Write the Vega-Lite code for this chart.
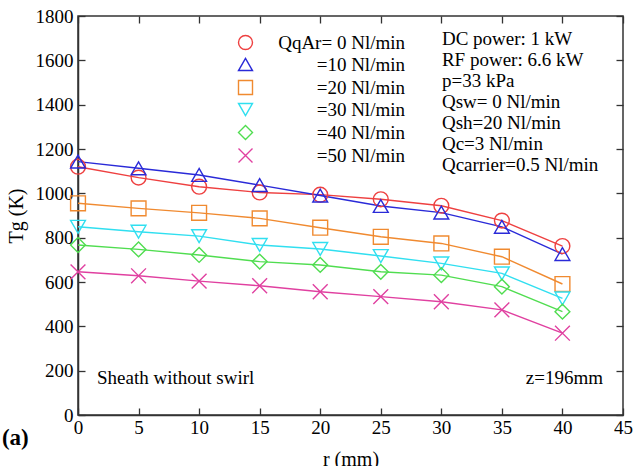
{
  "$schema": "https://vega.github.io/schema/vega-lite/v6.json",
  "width": 545,
  "height": 399,
  "autosize": {"type": "none"},
  "padding": {"left": 78, "top": 16, "right": 12, "bottom": 51},
  "background": "white",
  "config": {
    "font": "Liberation Serif",
    "view": {"stroke": "#333333", "strokeWidth": 1.5},
    "axis": {
      "grid": false,
      "labelFont": "Liberation Serif",
      "titleFont": "Liberation Serif",
      "labelFontSize": 19,
      "titleFontSize": 20,
      "labelColor": "black",
      "titleColor": "black",
      "titleFontWeight": "normal",
      "domainColor": "#333333",
      "domainWidth": 1.5,
      "tickColor": "#333333",
      "tickWidth": 1.3
    },
    "legend": {"labelFont": "Liberation Serif"}
  },
  "datasets": {
    "tg": [
      {"r": 0, "T": 1120, "s": "QqAr= 0 Nl/min"},
      {"r": 5, "T": 1071, "s": "QqAr= 0 Nl/min"},
      {"r": 10, "T": 1030, "s": "QqAr= 0 Nl/min"},
      {"r": 15, "T": 1004, "s": "QqAr= 0 Nl/min"},
      {"r": 20, "T": 994, "s": "QqAr= 0 Nl/min"},
      {"r": 25, "T": 973, "s": "QqAr= 0 Nl/min"},
      {"r": 30, "T": 944, "s": "QqAr= 0 Nl/min"},
      {"r": 35, "T": 877, "s": "QqAr= 0 Nl/min"},
      {"r": 40, "T": 762, "s": "QqAr= 0 Nl/min"},
      {"r": 0, "T": 1143, "s": "=10 Nl/min"},
      {"r": 5, "T": 1113, "s": "=10 Nl/min"},
      {"r": 10, "T": 1083, "s": "=10 Nl/min"},
      {"r": 15, "T": 1037, "s": "=10 Nl/min"},
      {"r": 20, "T": 990, "s": "=10 Nl/min"},
      {"r": 25, "T": 943, "s": "=10 Nl/min"},
      {"r": 30, "T": 913, "s": "=10 Nl/min"},
      {"r": 35, "T": 849, "s": "=10 Nl/min"},
      {"r": 40, "T": 726, "s": "=10 Nl/min"},
      {"r": 0, "T": 955, "s": "=20 Nl/min"},
      {"r": 5, "T": 932, "s": "=20 Nl/min"},
      {"r": 10, "T": 912, "s": "=20 Nl/min"},
      {"r": 15, "T": 887, "s": "=20 Nl/min"},
      {"r": 20, "T": 845, "s": "=20 Nl/min"},
      {"r": 25, "T": 804, "s": "=20 Nl/min"},
      {"r": 30, "T": 774, "s": "=20 Nl/min"},
      {"r": 35, "T": 714, "s": "=20 Nl/min"},
      {"r": 40, "T": 591, "s": "=20 Nl/min"},
      {"r": 0, "T": 849, "s": "=30 Nl/min"},
      {"r": 5, "T": 827, "s": "=30 Nl/min"},
      {"r": 10, "T": 807, "s": "=30 Nl/min"},
      {"r": 15, "T": 767, "s": "=30 Nl/min"},
      {"r": 20, "T": 749, "s": "=30 Nl/min"},
      {"r": 25, "T": 717, "s": "=30 Nl/min"},
      {"r": 30, "T": 684, "s": "=30 Nl/min"},
      {"r": 35, "T": 639, "s": "=30 Nl/min"},
      {"r": 40, "T": 526, "s": "=30 Nl/min"},
      {"r": 0, "T": 767, "s": "=40 Nl/min"},
      {"r": 5, "T": 747, "s": "=40 Nl/min"},
      {"r": 10, "T": 722, "s": "=40 Nl/min"},
      {"r": 15, "T": 692, "s": "=40 Nl/min"},
      {"r": 20, "T": 677, "s": "=40 Nl/min"},
      {"r": 25, "T": 646, "s": "=40 Nl/min"},
      {"r": 30, "T": 631, "s": "=40 Nl/min"},
      {"r": 35, "T": 579, "s": "=40 Nl/min"},
      {"r": 40, "T": 466, "s": "=40 Nl/min"},
      {"r": 0, "T": 646, "s": "=50 Nl/min"},
      {"r": 5, "T": 628, "s": "=50 Nl/min"},
      {"r": 10, "T": 604, "s": "=50 Nl/min"},
      {"r": 15, "T": 583, "s": "=50 Nl/min"},
      {"r": 20, "T": 556, "s": "=50 Nl/min"},
      {"r": 25, "T": 534, "s": "=50 Nl/min"},
      {"r": 30, "T": 511, "s": "=50 Nl/min"},
      {"r": 35, "T": 474, "s": "=50 Nl/min"},
      {"r": 40, "T": 369, "s": "=50 Nl/min"}
    ]
  },
  "resolve": {"axis": {"x": "independent", "y": "independent"}},
  "layer": [
    {
      "data": {"name": "tg"},
      "mark": {"type": "line", "strokeWidth": 1.4},
      "encoding": {
        "x": {
          "field": "r", "type": "quantitative",
          "scale": {"domain": [0, 45], "nice": false},
          "axis": {"orient": "bottom", "values": [0,5,10,15,20,25,30,35,40,45], "format": "d", "tickSize": -7, "labelPadding": 10, "title": "r (mm)", "titlePadding": 12, "labelFlush": false}
        },
        "y": {
          "field": "T", "type": "quantitative",
          "scale": {"domain": [0, 1800], "nice": false},
          "axis": {"orient": "left", "values": [0,200,400,600,800,1000,1200,1400,1600,1800], "format": "d", "tickSize": -7, "labelPadding": 12, "title": "Tg (K)", "titlePadding": 9}
        },
        "color": {
          "field": "s", "type": "nominal",
          "scale": {
            "domain": ["QqAr= 0 Nl/min", "=10 Nl/min", "=20 Nl/min", "=30 Nl/min", "=40 Nl/min", "=50 Nl/min"],
            "range": ["#ee4040", "#2a2ad8", "#f08a30", "#30dff0", "#50dd50", "#e040a0"]
          }
        }
      }
    },
    {
      "data": {"name": "tg"},
      "mark": {"type": "point", "filled": false, "size": 220, "strokeWidth": 1.4, "opacity": 1},
      "encoding": {
        "x": {
          "field": "r", "type": "quantitative",
          "axis": {"orient": "top", "values": [0,5,10,15,20,25,30,35,40,45], "tickSize": -7, "labels": false, "domain": false, "title": null}
        },
        "y": {
          "field": "T", "type": "quantitative",
          "axis": {"orient": "right", "values": [0,200,400,600,800,1000,1200,1400,1600,1800], "tickSize": -7, "labels": false, "domain": false, "title": null}
        },
        "color": {"field": "s", "type": "nominal"},
        "shape": {
          "field": "s", "type": "nominal",
          "scale": {
            "domain": ["QqAr= 0 Nl/min", "=10 Nl/min", "=20 Nl/min", "=30 Nl/min", "=40 Nl/min", "=50 Nl/min"],
            "range": ["circle", "triangle-up", "square", "triangle-down", "diamond", "M-1,-1L1,1M-1,1L1,-1"]
          },
          "legend": {
            "orient": "none",
            "legendX": 158,
            "legendY": 17,
            "title": null,
            "padding": 0,
            "symbolSize": 196,
            "symbolStrokeWidth": 1.4,
            "labelFontSize": 19,
            "labelColor": "black",
            "labelAlign": "right",
            "labelOffset": 150,
            "labelLimit": 300,
            "rowPadding": 2
          }
        }
      }
    },
    {
      "data": {"values": [{}]},
      "mark": {"type": "text", "align": "left", "baseline": "top", "fontSize": 19, "lineHeight": 21, "color": "black"},
      "encoding": {
        "x": {"datum": 30.05, "type": "quantitative", "axis": null},
        "y": {"datum": 1735, "type": "quantitative", "axis": null},
        "text": {"value": ["DC power: 1 kW", "RF power: 6.6 kW", "p=33 kPa", "Qsw= 0 Nl/min", "Qsh=20 Nl/min", "Qc=3 Nl/min", "Qcarrier=0.5 Nl/min"]}
      }
    },
    {
      "data": {"values": [{}]},
      "mark": {"type": "text", "align": "left", "baseline": "middle", "fontSize": 19, "color": "black"},
      "encoding": {
        "x": {"datum": 1.57, "type": "quantitative", "axis": null},
        "y": {"datum": 167, "type": "quantitative", "axis": null},
        "text": {"value": "Sheath without swirl"}
      }
    },
    {
      "data": {"values": [{}]},
      "mark": {"type": "text", "align": "right", "baseline": "middle", "fontSize": 19, "color": "black"},
      "encoding": {
        "x": {"datum": 43.35, "type": "quantitative", "axis": null},
        "y": {"datum": 167, "type": "quantitative", "axis": null},
        "text": {"value": "z=196mm"}
      }
    },
    {
      "data": {"values": [{}]},
      "mark": {"type": "text", "align": "left", "baseline": "middle", "fontSize": 23, "fontWeight": "bold", "color": "black"},
      "encoding": {
        "x": {"datum": -6.28, "type": "quantitative", "axis": null},
        "y": {"datum": -105, "type": "quantitative", "axis": null},
        "text": {"value": "(a)"}
      }
    }
  ]
}
